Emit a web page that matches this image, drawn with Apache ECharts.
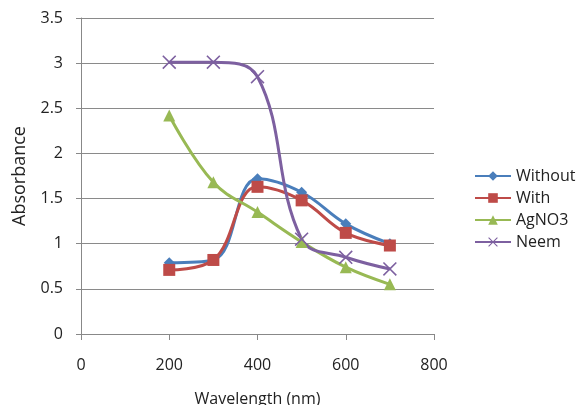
<!DOCTYPE html>
<html><head><meta charset="utf-8">
<script src="https://cdn.jsdelivr.net/npm/echarts@6/dist/echarts.min.js"></script>
<style>html,body{margin:0;padding:0;background:#fff}#c{width:580px;height:405px}</style>
</head><body><div id="c"></div>
<script>
var wavelengths = [200, 300, 400, 500, 600, 700];
var withoutVals = [0.79, 0.82, 1.72, 1.57, 1.22, 1.00];
var withVals = [0.71, 0.82, 1.63, 1.48, 1.12, 0.98];
var agno3Vals = [2.42, 1.68, 1.35, 1.02, 0.74, 0.55];
var neemVals = [3.01, 3.01, 2.85, 1.05, 0.85, 0.72];
var seriesNames = ['Without', 'With', 'AgNO3', 'Neem'];
var xTicks = [0, 200, 400, 600, 800];
var yTicks = [0, 0.5, 1, 1.5, 2, 2.5, 3, 3.5];

function pairs(v){ return wavelengths.map(function(x,i){ return [x, v[i]]; }); }
var xPath = 'path://M0,0.8L0.8,0L5,4.2L9.2,0L10,0.8L5.8,5L10,9.2L9.2,10L5,5.8L0.8,10L0,9.2L4.2,5Z';
var font = "'Open Sans','Liberation Sans',sans-serif";
var chart = echarts.init(document.getElementById('c'));
function mk(name, vals, color, symbol, size){
  return {name:name, type:'line', data:pairs(vals), smooth:0.4, symbol:symbol, symbolSize:size,
    lineStyle:{color:color, width:3}, itemStyle:{color:color}, z: 2};
}
chart.setOption({
  animation:false,
  grid:{left:81, right:146, top:18, bottom:71, containLabel:false, outerBoundsMode:'none'},
  legend:{orient:'vertical', left:469, top:163, itemWidth:36, itemHeight:12, itemGap:6,
    textStyle:{fontSize:16, color:'#222', fontFamily:font}, data:seriesNames},
  xAxis:{type:'value', min:xTicks[0], max:xTicks[xTicks.length-1], interval:200,
    name:'Wavelength (nm)', nameLocation:'middle', nameGap:57,
    nameTextStyle:{fontSize:16, color:'#222', fontFamily:font},
    axisLine:{lineStyle:{color:'#888'}}, axisTick:{show:true, length:6, lineStyle:{color:'#888'}},
    axisLabel:{fontSize:16, color:'#222', margin:23, fontFamily:font}, splitLine:{show:false}},
  yAxis:{type:'value', min:yTicks[0], max:yTicks[yTicks.length-1], interval:0.5,
    name:'Absorbance', nameLocation:'middle', nameGap:52,
    nameTextStyle:{fontSize:18, color:'#222', fontFamily:font},
    axisLine:{show:true, lineStyle:{color:'#888'}}, axisTick:{show:true, length:5, lineStyle:{color:'#888'}},
    axisLabel:{fontSize:16, color:'#222', margin:18, fontFamily:font},
    splitLine:{lineStyle:{color:'#8a8a8a', width:1}}},
  series:[
    mk('Without', withoutVals, '#4a7ebb', 'diamond', 11),
    mk('With', withVals, '#be4b48', 'rect', 12),
    mk('AgNO3', agno3Vals, '#98b954', 'triangle', 12),
    mk('Neem', neemVals, '#7d60a0', xPath, 14)
  ]
});
</script></body></html>
